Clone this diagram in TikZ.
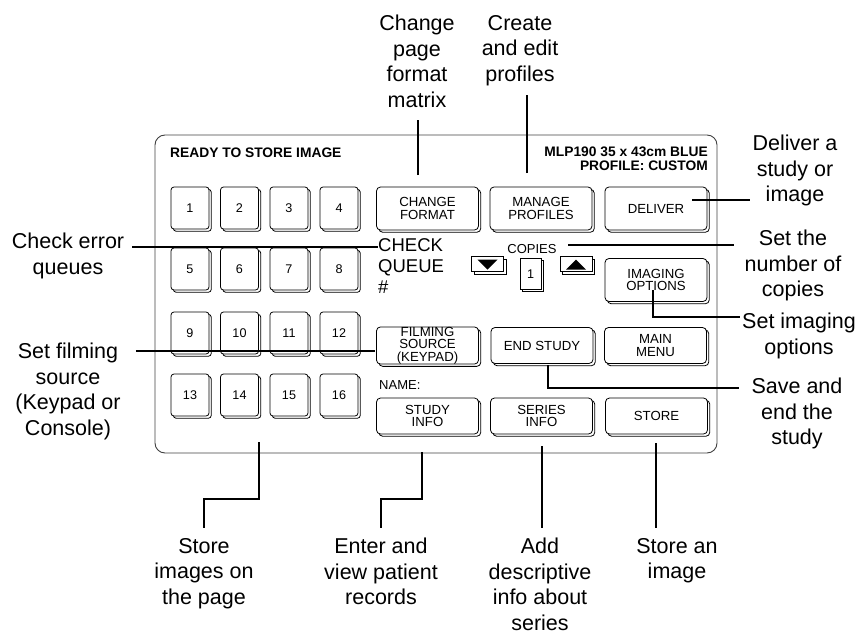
\documentclass[tikz,border=0pt]{standalone}
\usepackage{fontspec}
\setmainfont{Liberation Sans}
\usetikzlibrary{shadows}

\begin{document}
\begin{tikzpicture}[x=1pt, y=-1pt,
    key/.style = {draw, fill=white, line width=0.8pt, rounded corners=3pt, inner sep=0pt,
      minimum width=38pt, minimum height=42pt,
      copy shadow={shadow xshift=2.3pt, shadow yshift=-2.3pt},
      font=\fontsize{12.6}{13}\selectfont},
    btn/.style = {key, rounded corners=4pt, minimum width=102pt, minimum height=43pt,
      align=center, font=\fontsize{13.2}{12.6}\selectfont},
    lowbtn/.style = {btn, minimum height=36pt},
    sbox/.style = {draw, fill=white, line width=0.8pt, inner sep=0pt,
      copy shadow={shadow xshift=2.5pt, shadow yshift=-2.5pt},
      font=\fontsize{12.6}{13}\selectfont},
    lbl/.style = {align=center, inner sep=0pt, anchor=north, font=\fontsize{21.5}{25.5}\selectfont},
    lead/.style = {line width=2pt}]
    \useasboundingbox (0,0) rectangle (859,634);

    % Panel
    \draw[black!75, line width=0.9pt, rounded corners=10pt] (155,135) rectangle (717,453);

    \node[anchor=base west, inner sep=0pt, font=\bfseries\fontsize{13.8}{14}\selectfont] (rdy) at (170,157) {READY TO STORE IMAGE};
    \node[anchor=north east, align=right, inner sep=0pt, font=\bfseries\fontsize{13.8}{14}\selectfont] (mlp) at (708,147) {MLP190 35 x 43cm BLUE\\PROFILE: CUSTOM};

    % Keys
    \node[key] (k1) at (190,208) {1};
    \node[key] (k2) at (239.5,208) {2};
    \node[key] (k3) at (289,208) {3};
    \node[key] (k4) at (339,208) {4};
    \node[key] (k5) at (190,269) {5};
    \node[key] (k6) at (239.5,269) {6};
    \node[key] (k7) at (289,269) {7};
    \node[key] (k8) at (339,269) {8};
    \node[key] (k9) at (190,333) {9};
    \node[key] (k10) at (239.5,333) {10};
    \node[key] (k11) at (289,333) {11};
    \node[key] (k12) at (339,333) {12};
    \node[key] (k13) at (190,395) {13};
    \node[key] (k14) at (239.5,395) {14};
    \node[key] (k15) at (289,395) {15};
    \node[key] (k16) at (339,395) {16};

    % Buttons
    \node[btn] (chg) at (427.5,208.5) {CHANGE\\FORMAT};
    \node[btn] (prf) at (541,208.5) {MANAGE\\PROFILES};
    \node[btn] (dlv) at (656,208.5) {DELIVER};
    \node[btn] (img) at (656,280) {IMAGING\\OPTIONS};
    \node[lowbtn] (flm) at (427.5,345.5) {FILMING\\SOURCE\\(KEYPAD)};
    \node[lowbtn] (ends) at (542,345.5) {END STUDY};
    \node[lowbtn] (mnu) at (655.5,345.5) {MAIN\\MENU};
    \node[lowbtn] (std) at (427.5,416) {STUDY\\INFO};
    \node[lowbtn] (ser) at (541.5,416) {SERIES\\INFO};
    \node[lowbtn] (sto) at (656.5,416) {STORE};

    \node[anchor=north west, align=left, inner sep=0pt, font=\fontsize{18.5}{21}\selectfont] (chk) at (378,238.5) {CHECK\\QUEUE\\\#};
    \node[anchor=north, inner sep=0pt, font=\fontsize{13}{13}\selectfont] (cop) at (532,244) {COPIES};
    \node[anchor=base west, inner sep=0pt, font=\fontsize{13}{13}\selectfont] (nam) at (379,389) {NAME:};

    \node[sbox, minimum width=32pt, minimum height=15pt] (dn) at (487.5,264.2) {};
    \node[sbox, minimum width=21pt, minimum height=31pt] (cnt) at (530.5,273.7) {1};
    \node[sbox, minimum width=32pt, minimum height=15pt] (up) at (576,264.2) {};
    \fill ([xshift=-10pt,yshift=4.5pt]dn.center) -- ([xshift=10pt,yshift=4.5pt]dn.center) -- ([yshift=-5.5pt]dn.center) -- cycle;
    \fill ([xshift=-10pt,yshift=-5.5pt]up.center) -- ([xshift=10pt,yshift=-5.5pt]up.center) -- ([yshift=4.5pt]up.center) -- cycle;

    % Labels
    \node[lbl] (lChg) at (417,14.8) {Change\\page\\format\\matrix};
    \node[lbl] (lPrf) at (520,14.8) {Create\\and edit\\profiles};
    \node[lbl] (lDlv) at (795,135) {Deliver a\\study or\\image};
    \node[lbl] (lCop) at (793,230) {Set the\\number of\\copies};
    \node[lbl] (lImg) at (799,313) {Set imaging\\options};
    \node[lbl] (lEnd) at (797,378) {Save and\\end the\\study};
    \node[lbl] (lChk) at (68,233) {Check error\\queues};
    \node[lbl] (lFlm) at (68,343) {Set filming\\source\\(Keypad or\\Console)};
    \node[lbl] (lKey) at (204,538) {Store\\images on\\the page};
    \node[lbl] (lStd) at (381,538) {Enter and\\view patient\\records};
    \node[lbl] (lSer) at (540,538) {Add\\descriptive\\info about\\series};
    \node[lbl] (lSto) at (677,538) {Store an\\image};

    \coordinate (tChg) at (418,175);
    \coordinate (tPrf) at (527,173);
    \coordinate (tDlv) at (692,200);
    \coordinate (tCop) at (568,245);
    \coordinate (tImg) at (653,290);
    \coordinate (tEnd) at (548,365);
    \coordinate (tChk) at (378,247);
    \coordinate (tFlm) at (375,351);
    \coordinate (tKey) at (259,442);
    \coordinate (tStd) at (422,452);
    \coordinate (tSer) at (542,446);
    \coordinate (tSto) at (656,443);

    % Edges
    \draw[lead, shorten >=13pt] (tChg) -- (tChg |- lChg.south);
    \draw[lead, shorten >=9pt] (tPrf) -- (tPrf |- lPrf.south);
    \draw[lead, shorten >=2pt] (tDlv) -- (tDlv -| lDlv.west);
    \draw[lead, shorten >=10pt] (tCop) -- (tCop -| lCop.west);
    \draw[lead, shorten >=2pt] (tImg) |- ([yshift=-4pt]lImg.north west);
    \draw[lead, shorten >=12pt] (tEnd) |- ([yshift=-10pt]lEnd.north west);
    \draw[lead, shorten <=8pt] (lChk.east |- tChk) -- (tChk);
    \draw[lead, shorten <=15pt] (lFlm.east |- tFlm) -- (tFlm);
    \draw[lead, shorten >=10pt] (tKey) -- ++(0,57) -| (lKey.north);
    \draw[lead, shorten >=10pt] (tStd) -- ++(0,47) -| (lStd.north);
    \draw[lead, shorten >=10pt] (tSer) -- (tSer |- lSer.north);
    \draw[lead, shorten >=10pt] (tSto) -- (tSto |- lSto.north);

\end{tikzpicture}
\end{document}
